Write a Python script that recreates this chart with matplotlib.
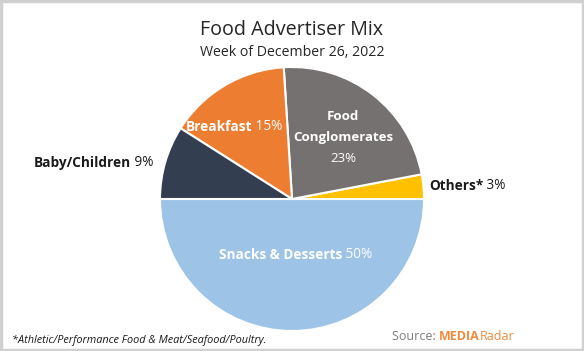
import matplotlib.pyplot as plt
from matplotlib.patches import Rectangle

# dados
categorias = ["Snacks & Desserts", "Others*", "Food\nConglomerates", "Breakfast", "Baby/Children"]
valores = [50, 3, 23, 15, 9]
cores = ["#9DC3E6", "#FFC000", "#767171", "#ED7D31", "#333F50"]

plt.rcParams["font.family"] = ["Open Sans", "DejaVu Sans"]

fig = plt.figure(figsize=(5.84, 3.51), dpi=100)

# moldura cinza
fig.patches.append(Rectangle((0.002, 0.003), 0.996, 0.994, transform=fig.transFigure,
                             fill=False, edgecolor="#D0D0D0", linewidth=2.5))

# pizza: centro ~(292, 199) px, raio ~132 px
cx, cy, r = 292, 199, 132
ax = fig.add_axes([(cx - r) / 584, (351 - cy - r) / 351, 2 * r / 584, 2 * r / 351])
ax.pie(valores, colors=cores, startangle=180, counterclock=True,
       wedgeprops=dict(edgecolor="white", linewidth=1.5))
ax.set_xlim(-1, 1)
ax.set_ylim(-1, 1)
ax.set_aspect("equal")
ax.axis("off")

# títulos
fig.text(0.5, 1 - 30 / 351, "Food Advertiser Mix", ha="center", va="center",
         fontsize=14.2, color="#262626")
fig.text(0.5, 1 - 53 / 351, "Week of December 26, 2022", ha="center", va="center",
         fontsize=10.2, color="#262626")


def rotulo(x, y, nome, pct, cor, tam=9.8):
    # nome em negrito + porcentagem normal
    t = fig.text(x / 584, 1 - y / 351, nome, ha="left", va="center", fontsize=tam,
                 fontweight="bold", color=cor)
    ax.annotate(" " + pct, xy=(1, 0), xycoords=t, va="bottom", ha="left",
                fontsize=tam, color=cor)


rotulo(34, 163, "Baby/Children", "9%", "#1A1A1A")
rotulo(186, 127, "Breakfast", "15%", "white")
rotulo(429, 186, "Others*", "3%", "#1A1A1A")
rotulo(219, 255, "Snacks & Desserts", "50%", "white")

fig.text(343 / 584, 1 - 117 / 351, "Food", ha="center", va="center", fontsize=9.5,
         fontweight="bold", color="white")
fig.text(343 / 584, 1 - 138 / 351, "Conglomerates", ha="center", va="center", fontsize=9.5,
         fontweight="bold", color="white")
fig.text(343 / 584, 1 - 158 / 351, "23%", ha="center", va="center", fontsize=9.5,
         color="white")

# rodapé
fig.text(12 / 584, 1 - 340 / 351, "*Athletic/Performance Food & Meat/Seafood/Poultry.",
         ha="left", va="center", fontsize=7.8, style="italic", color="#1A1A1A")

s = fig.text(392 / 584, 1 - 336 / 351, "Source: ", ha="left", va="center",
             fontsize=9, color="#7F7F7F")
m = ax.annotate("MEDIA", xy=(1, 0), xycoords=s, va="bottom", ha="left",
                fontsize=9, fontweight="bold", color="#F08A3C")
ax.annotate("Radar", xy=(1, 0), xycoords=m, va="bottom", ha="left",
            fontsize=9, color="#F08A3C")

fig.savefig("out.png", dpi=100)
